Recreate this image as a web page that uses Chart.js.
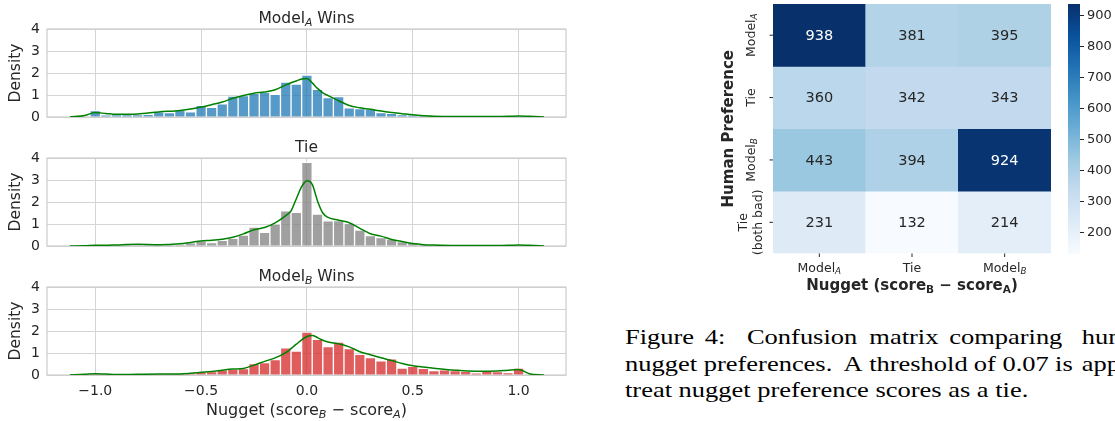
<!DOCTYPE html>
<html>
<head>
<meta charset="utf-8">
<script src="https://cdn.jsdelivr.net/npm/chart.js@4.4.0/dist/chart.umd.min.js"></script>
<style>
html, body { margin: 0; padding: 0; background: #fff; }
body { width: 1115px; height: 421px; position: relative; overflow: hidden; }
canvas { position: absolute; }
.cap { position: absolute; left: 625px; width: 500px; height: 21px; font-family: 'Liberation Serif', 'Times New Roman', serif; font-size: 21px; line-height: 21px; color: #000; transform-origin: 0 0; transform: scaleX(1.26); white-space: nowrap; }
.cap span { position: absolute; top: 0; }
</style>
</head>
<body>
<canvas id="histA" width="575" height="125" style="left:0;top:0"></canvas>
<canvas id="histTie" width="575" height="125" style="left:0;top:129px"></canvas>
<canvas id="histB" width="575" height="163" style="left:0;top:258px"></canvas>
<canvas id="heat" width="360" height="300" style="left:700px;top:0"></canvas>
<canvas id="cbar" width="55" height="260" style="left:1060px;top:0"></canvas>

<div class="cap" style="top:327px">
  <span style="left:0">Figure</span><span style="left:63.4px">4:</span><span style="left:96.8px">Confusion</span><span style="left:193.9px">matrix</span><span style="left:257.3px">comparing</span><span style="left:362.5px">human</span>
</div>
<div class="cap" style="top:353.5px">
  <span style="left:0">nugget</span><span style="left:62.5px">preferences.</span><span style="left:173.4px">A</span><span style="left:193.8px">threshold</span><span style="left:276.8px">of</span><span style="left:299.6px">0.07</span><span style="left:341.3px">is</span><span style="left:362.5px">applied</span>
</div>
<div class="cap" style="top:379.5px">
  <span style="left:0">treat nugget preference scores as a tie.</span>
</div>

<script>
// ---- histogram data (density per bin, bins of width 0.05) ----
var binCenters = [-1.0, -0.95, -0.9, -0.85, -0.8, -0.75, -0.7, -0.65, -0.6, -0.55,
                  -0.5, -0.45, -0.4, -0.35, -0.3, -0.25, -0.2, -0.15, -0.1, -0.05,
                  0.0, 0.05, 0.1, 0.15, 0.2, 0.25, 0.3, 0.35, 0.4, 0.45,
                  0.5, 0.55, 0.6, 0.65, 0.7, 0.75, 0.8, 0.85, 0.9, 0.95, 1.0];

var densityModelA = [0.29, 0.08, 0.10, 0.10, 0.10, 0.12, 0.23, 0.20, 0.32, 0.23,
                     0.53, 0.44, 0.60, 0.95, 0.97, 1.08, 1.12, 1.03, 1.59, 1.50,
                     1.91, 1.26, 0.88, 0.93, 0.42, 0.38, 0.36, 0.20, 0.17, 0.10,
                     0.09, 0.03, 0.02, 0.01, 0.01, 0.01, 0.01, 0.01, 0.01, 0.01, 0.04];

var densityTie = [0.02, 0.01, 0.03, 0.05, 0.06, 0.05, 0.03, 0.04, 0.07, 0.14,
                  0.23, 0.16, 0.26, 0.35, 0.50, 0.86, 0.62, 1.01, 1.60, 1.53,
                  3.80, 1.45, 1.14, 1.15, 1.03, 0.72, 0.47, 0.38, 0.32, 0.20,
                  0.15, 0.07, 0.03, 0.02, 0.02, 0.02, 0.02, 0.02, 0.02, 0.02, 0.04];

var densityModelB = [0.04, 0.02, 0.02, 0.02, 0.03, 0.03, 0.03, 0.04, 0.05, 0.08,
                     0.14, 0.15, 0.24, 0.26, 0.29, 0.52, 0.56, 0.70, 1.23, 1.09,
                     1.95, 1.62, 1.29, 1.50, 1.20, 0.94, 0.79, 0.64, 0.73, 0.32,
                     0.39, 0.30, 0.20, 0.24, 0.20, 0.17, 0.08, 0.17, 0.15, 0.11, 0.32];

// ---- kde curves ----
var kdeX = [-1.12, -1.05, -1.0, -0.95, -0.9, -0.8, -0.7, -0.6, -0.55, -0.5,
            -0.45, -0.4, -0.35, -0.3, -0.25, -0.2, -0.15, -0.1, -0.075, -0.05,
            -0.025, 0.0, 0.025, 0.05, 0.075, 0.1, 0.15, 0.2, 0.25, 0.3,
            0.35, 0.4, 0.45, 0.5, 0.55, 0.6, 0.7, 0.8, 0.9, 0.95, 1.0, 1.05, 1.12];

var kdeModelA = [0, 0.07, 0.20, 0.16, 0.12, 0.14, 0.23, 0.30, 0.36, 0.45,
                 0.56, 0.68, 0.85, 0.98, 1.08, 1.14, 1.24, 1.46, 1.56, 1.64,
                 1.73, 1.75, 1.55, 1.30, 1.10, 0.97, 0.74, 0.52, 0.42, 0.35,
                 0.27, 0.20, 0.15, 0.10, 0.06, 0.03, 0.02, 0.02, 0.02, 0.03, 0.05, 0.03, 0];

var kdeTie = [0, 0.01, 0.03, 0.03, 0.05, 0.08, 0.06, 0.10, 0.16, 0.23,
              0.26, 0.31, 0.40, 0.55, 0.74, 0.84, 1.05, 1.38, 1.60, 2.15,
              2.70, 2.97, 2.80, 2.05, 1.50, 1.30, 1.17, 1.06, 0.80, 0.56,
              0.45, 0.30, 0.20, 0.11, 0.06, 0.04, 0.02, 0.02, 0.02, 0.03, 0.05, 0.03, 0];

var kdeModelB = [0, 0.03, 0.06, 0.04, 0.02, 0.03, 0.04, 0.05, 0.08, 0.12,
                 0.16, 0.22, 0.27, 0.30, 0.45, 0.62, 0.78, 1.02, 1.20, 1.40,
                 1.60, 1.75, 1.80, 1.70, 1.58, 1.50, 1.42, 1.28, 1.06, 0.92,
                 0.78, 0.66, 0.52, 0.42, 0.36, 0.31, 0.22, 0.17, 0.18, 0.22, 0.25, 0.06, 0];

var xTicks = [-1.0, -0.5, 0.0, 0.5, 1.0];
var yTicks = [0, 1, 2, 3, 4];

// ---- confusion matrix ----
var nuggetLabels = ['Model_A', 'Tie', 'Model_B'];
var humanLabels = ['Model_A', 'Tie', 'Model_B', 'Tie\n(both bad)'];
var rowModelA = [938, 381, 395];
var rowTie = [360, 342, 343];
var rowModelB = [443, 394, 924];
var rowBothBad = [231, 132, 214];
var cbarTicks = [200, 300, 400, 500, 600, 700, 800, 900];

var matrixRows = [rowModelA, rowTie, rowModelB, rowBothBad];
var allCounts = [].concat(rowModelA, rowTie, rowModelB, rowBothBad);
var vmin = Math.min.apply(null, allCounts);
var vmax = Math.max.apply(null, allCounts);

var FONT = "'DejaVu Sans', sans-serif";
var INK = '#262626';
var GRID = '#d4d4d4';

// matplotlib "Blues"
var bluesStops = [[247,251,255],[222,235,247],[198,219,239],[158,202,225],[107,174,214],
                  [66,146,198],[33,113,181],[8,81,156],[8,48,107]];
function blues(t) {
    t = Math.max(0, Math.min(1, t)) * 8;
    var i = Math.min(7, Math.floor(t)), f = t - i;
    var a = bluesStops[i], b = bluesStops[i + 1];
    return a.map(function(v, k) { return Math.round(v + (b[k] - v) * f); });
}
function rgb(c) { return 'rgb(' + c.join(',') + ')'; }
function luminance(c) {
    var l = c.map(function(v) {
        v /= 255;
        return v <= 0.03928 ? v / 12.92 : Math.pow((v + 0.055) / 1.055, 2.4);
    });
    return 0.2126 * l[0] + 0.7152 * l[1] + 0.0722 * l[2];
}

// text with "_X" subscripts, centred on x, y is the baseline
function drawRich(ctx, text, x, y, size, bold, subItalic) {
    var parts = text.split(/_(.)/);
    var w = bold ? 'bold ' : '';
    var mainFont = w + size + 'px ' + FONT;
    var subFont = (subItalic ? 'italic ' : '') + w + (size * 0.7) + 'px ' + FONT;
    var total = 0;
    parts.forEach(function(p, i) { ctx.font = i % 2 ? subFont : mainFont; total += ctx.measureText(p).width; });
    var cx = x - total / 2;
    ctx.textAlign = 'left';
    ctx.textBaseline = 'alphabetic';
    parts.forEach(function(p, i) {
        ctx.font = i % 2 ? subFont : mainFont;
        ctx.fillText(p, cx, y + (i % 2 ? size * 0.22 : 0));
        cx += ctx.measureText(p).width;
    });
}

var framePlugin = {
    id: 'frame',
    beforeDatasetsDraw: function(chart) {
        var a = chart.chartArea, ctx = chart.ctx;
        ctx.save();
        ctx.strokeStyle = '#cccccc';
        ctx.lineWidth = 1.2;
        ctx.strokeRect(a.left, a.top, a.right - a.left, a.bottom - a.top);
        ctx.restore();
    }
};

function histChart(id, title, density, kde, color, showX) {
    var labelPlugin = {
        id: 'labels',
        afterDraw: function(chart) {
            var a = chart.chartArea, ctx = chart.ctx;
            ctx.save();
            ctx.fillStyle = INK;
            drawRich(ctx, title, (a.left + a.right) / 2, a.top - 6.5, 15.5, false, true);
            if (showX) {
                drawRich(ctx, 'Nugget (score_B \u2212 score_A)', (a.left + a.right) / 2, a.bottom + 39.5, 16, false, true);
            }
            ctx.restore();
        }
    };
    return new Chart(document.getElementById(id), {
        type: 'bar',
        data: {
            datasets: [
                {
                    type: 'line',
                    data: kdeX.map(function(x, i) { return { x: x, y: kde[i] }; }),
                    borderColor: 'green',
                    borderWidth: 1.5,
                    pointRadius: 0,
                    cubicInterpolationMode: 'monotone',
                    fill: false
                },
                {
                    type: 'bar',
                    data: binCenters.map(function(x, i) { return { x: x, y: density[i] }; }),
                    backgroundColor: color,
                    borderColor: '#ffffff',
                    borderWidth: 1,
                    categoryPercentage: 1,
                    barPercentage: 1
                }
            ]
        },
        options: {
            responsive: false,
            animation: false,
            layout: { padding: { left: 0, right: 9, top: 29, bottom: 0 } },
            plugins: { legend: { display: false }, tooltip: { enabled: false } },
            scales: {
                x: {
                    type: 'linear',
                    min: -1.228,
                    max: 1.224,
                    offset: false,
                    grid: { color: GRID, offset: false, drawTicks: false },
                    border: { display: false },
                    ticks: {
                        display: showX,
                        padding: 8,
                        color: INK,
                        font: { family: FONT, size: 14 },
                        callback: function(v) { return (v < 0 ? '\u2212' : '') + Math.abs(v).toFixed(1); }
                    },
                    afterBuildTicks: function(s) { s.ticks = xTicks.map(function(v) { return { value: v }; }); },
                    afterFit: function(s) { s.height = showX ? 46 : 8; }
                },
                y: {
                    min: 0,
                    max: 4,
                    grid: { color: GRID, drawTicks: false },
                    border: { display: false },
                    ticks: { padding: 7, color: INK, font: { family: FONT, size: 14 } },
                    afterBuildTicks: function(s) { s.ticks = yTicks.map(function(v) { return { value: v }; }); },
                    title: { display: true, text: 'Density', color: INK, font: { family: FONT, size: 15.5 }, padding: { top: 7, bottom: 0 } },
                    afterFit: function(s) { s.width = 47; s.paddingTop = 0; s.paddingBottom = 0; }
                }
            }
        },
        plugins: [framePlugin, labelPlugin]
    });
}

histChart('histA', 'Model_A Wins', densityModelA, kdeModelA, 'rgba(31,119,180,0.75)', false);
histChart('histTie', 'Tie', densityTie, kdeTie, 'rgba(128,128,128,0.75)', false);
histChart('histB', 'Model_B Wins', densityModelB, kdeModelB, 'rgba(214,39,40,0.75)', true);

// ---- heatmap ----
function cellColor(v) { return blues((v - vmin) / (vmax - vmin)); }

var heatPlugin = {
    id: 'heatText',
    afterDatasetsDraw: function(chart) {
        var ctx = chart.ctx, a = chart.chartArea;
        ctx.save();
        matrixRows.forEach(function(row, r) {
            chart.getDatasetMeta(r).data.forEach(function(el, c) {
                var v = row[c];
                ctx.fillStyle = luminance(cellColor(v)) < 0.408 ? '#ffffff' : INK;
                ctx.font = '14.5px ' + FONT;
                ctx.textAlign = 'center';
                ctx.textBaseline = 'middle';
                ctx.fillText(String(v), el.x, (el.y + el.base) / 2 + 1);
            });
        });
        ctx.strokeStyle = INK;
        ctx.fillStyle = INK;
        ctx.lineWidth = 1;
        chart.getDatasetMeta(0).data.forEach(function(el, c) {
            ctx.beginPath();
            ctx.moveTo(el.x, a.bottom);
            ctx.lineTo(el.x, a.bottom + 3.5);
            ctx.stroke();
            drawRich(ctx, nuggetLabels[c], el.x, a.bottom + 18.2, 12.5, false, true);
        });
        humanLabels.forEach(function(lab, r) {
            var el = chart.getDatasetMeta(r).data[0];
            var cy = (el.y + el.base) / 2;
            ctx.beginPath();
            ctx.moveTo(a.left - 3.5, cy);
            ctx.lineTo(a.left, cy);
            ctx.stroke();
            var lines = lab.split('\n');
            ctx.save();
            ctx.translate(a.left - 23, cy);
            ctx.rotate(-Math.PI / 2);
            lines.forEach(function(ln, i) {
                drawRich(ctx, ln, 0, 4.5 + (i - (lines.length - 1) / 2) * 15, 12.5, false, true);
            });
            ctx.restore();
        });
        ctx.save();
        ctx.translate(a.left - 46, (a.top + a.bottom) / 2);
        ctx.rotate(-Math.PI / 2);
        drawRich(ctx, 'Human Preference', 0, 5.5, 15, true, false);
        ctx.restore();
        drawRich(ctx, 'Nugget (score_B \u2212 score_A)', (a.left + a.right) / 2, a.bottom + 36.5, 15, true, false);
        ctx.restore();
    }
};

new Chart(document.getElementById('heat'), {
    type: 'bar',
    data: {
        labels: nuggetLabels,
        datasets: matrixRows.map(function(row, r) {
            return {
                label: humanLabels[r],
                data: row.map(function() { return 1; }),
                backgroundColor: row.map(function(v) { return rgb(cellColor(v)); }),
                borderWidth: 0,
                categoryPercentage: 1,
                barPercentage: 1
            };
        })
    },
    options: {
        responsive: false,
        animation: false,
        layout: { padding: { left: 73, right: 9, top: 4, bottom: 46.5 } },
        plugins: { legend: { display: false }, tooltip: { enabled: false } },
        scales: {
            x: { stacked: true, display: false },
            y: { stacked: true, reverse: true, min: 0, max: humanLabels.length, display: false }
        }
    },
    plugins: [heatPlugin]
});

// ---- colour bar ----
var gradientPlugin = {
    id: 'gradient',
    beforeDatasetsDraw: function(chart) {
        var ctx = chart.ctx, a = chart.chartArea, s = chart.scales.y;
        for (var py = Math.floor(a.top); py < a.bottom; py++) {
            var v = s.getValueForPixel(py + 0.5);
            ctx.fillStyle = rgb(cellColor(v));
            ctx.fillRect(a.left, py, a.right - a.left, 1);
        }
    }
};

new Chart(document.getElementById('cbar'), {
    type: 'bar',
    data: { labels: [''], datasets: [] },
    options: {
        responsive: false,
        animation: false,
        layout: { padding: { left: 8, right: 0, top: 4, bottom: 6.5 } },
        plugins: { legend: { display: false }, tooltip: { enabled: false } },
        scales: {
            x: { display: false },
            y: {
                position: 'right',
                min: vmin,
                max: vmax,
                grid: { drawOnChartArea: false, drawTicks: true, tickLength: 4, color: INK },
                border: { display: false },
                ticks: { padding: 3, color: INK, font: { family: FONT, size: 13 } },
                afterBuildTicks: function(s) { s.ticks = cbarTicks.map(function(v) { return { value: v }; }); },
                afterFit: function(s) { s.width = 35; s.paddingTop = 0; s.paddingBottom = 0; }
            }
        }
    },
    plugins: [gradientPlugin]
});
</script>
</body>
</html>
